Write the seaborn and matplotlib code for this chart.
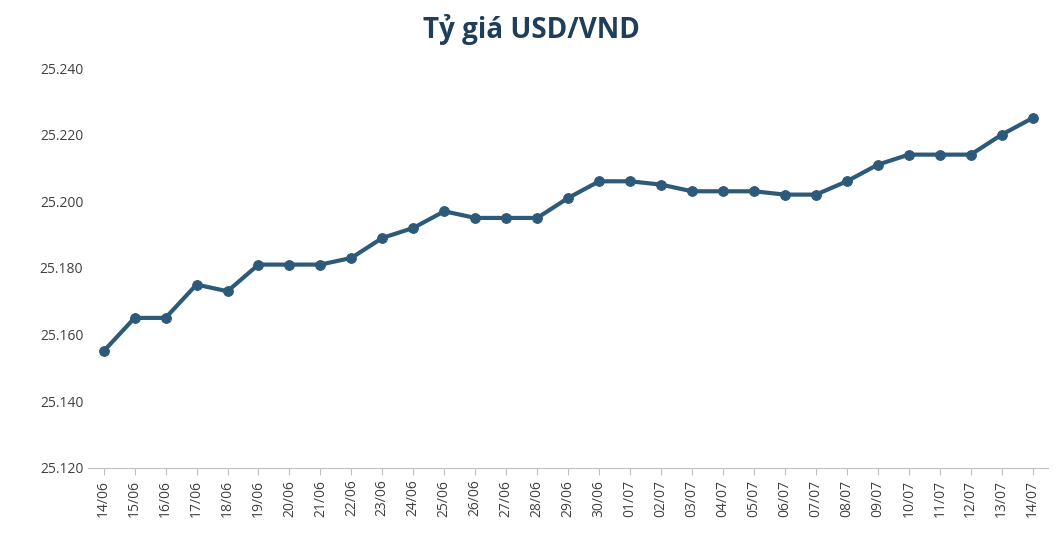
import matplotlib
matplotlib.use("Agg")
import matplotlib.pyplot as plt
import seaborn as sns
import pandas as pd
from matplotlib.ticker import FuncFormatter

ngay = ["14/06", "15/06", "16/06", "17/06", "18/06", "19/06", "20/06", "21/06",
        "22/06", "23/06", "24/06", "25/06", "26/06", "27/06", "28/06", "29/06",
        "30/06", "01/07", "02/07", "03/07", "04/07", "05/07", "06/07", "07/07",
        "08/07", "09/07", "10/07", "11/07", "12/07", "13/07", "14/07"]
ty_gia = [25155, 25165, 25165, 25175, 25173, 25181, 25181, 25181,
          25183, 25189, 25192, 25197, 25195, 25195, 25195, 25201,
          25206, 25206, 25205, 25203, 25203, 25203, 25202, 25202,
          25206, 25211, 25214, 25214, 25214, 25220, 25225]

df = pd.DataFrame({"ngay": ngay, "ty_gia": ty_gia, "x": range(len(ngay))})

sns.set_style("white")
plt.rcParams['font.family'] = ['Open Sans', 'DejaVu Sans']

fig, ax = plt.subplots(figsize=(10.62, 5.44), dpi=100)
fig.subplots_adjust(left=0.083, right=0.987, top=0.875, bottom=0.14)

mau = "#2E5A7A"
sns.lineplot(data=df, x="x", y="ty_gia", ax=ax, color=mau, linewidth=3,
             marker="o", markersize=7, markeredgecolor=mau)

ax.set_ylim(25120, 25240)
ax.set_yticks(range(25120, 25241, 20))
ax.yaxis.set_major_formatter(FuncFormatter(lambda v, p: f"{int(v):,}".replace(",", ".")))
ax.set_xlim(-0.5, len(ngay) - 0.5)
ax.set_xticks(range(len(ngay)))
ax.set_xticklabels(ngay, rotation=90)
ax.tick_params(axis="both", labelsize=10, colors="#404040", length=0)
ax.tick_params(axis="x", bottom=True, length=5, color="#BFBFBF")
ax.set_xlabel("")
ax.set_ylabel("")
for s in ["top", "right", "left"]:
    ax.spines[s].set_visible(False)
ax.spines["bottom"].set_color("#BFBFBF")

fig.suptitle("Tỷ giá USD/VND", fontsize=20, fontweight="bold", color="#1F3E5A", y=0.975)

fig.savefig("out.png", dpi=100)
